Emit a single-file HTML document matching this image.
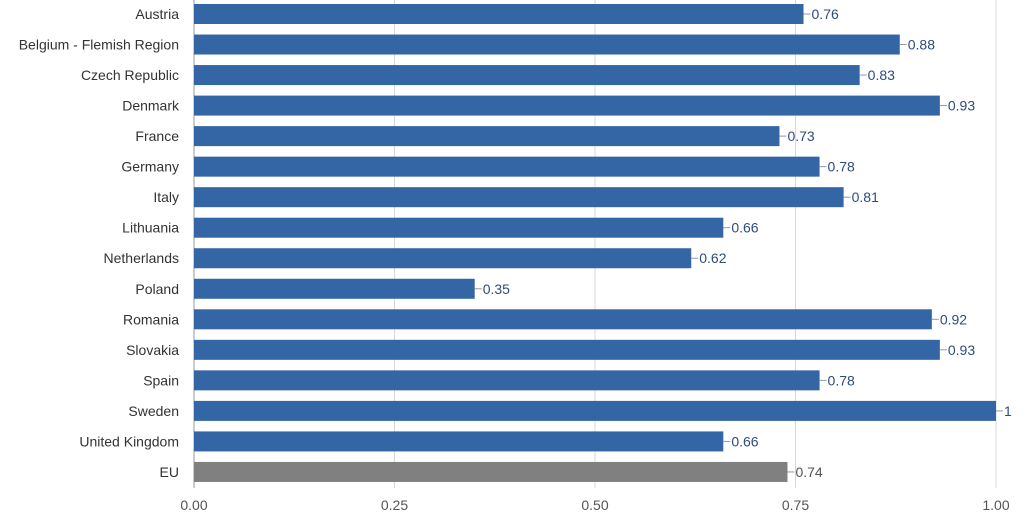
<!DOCTYPE html>
<html><head><meta charset="utf-8"><style>
body{margin:0;background:#fff;}
svg{display:block;font-family:"Liberation Sans",sans-serif;}
</style></head><body>
<svg id="chart" width="1024" height="518"></svg>
<script>
const categories=["Austria","Belgium - Flemish Region","Czech Republic","Denmark","France","Germany","Italy","Lithuania","Netherlands","Poland","Romania","Slovakia","Spain","Sweden","United Kingdom","EU"];
const values=[0.76,0.88,0.83,0.93,0.73,0.78,0.81,0.66,0.62,0.35,0.92,0.93,0.78,1,0.66,0.74];
const valueLabels=["0.76","0.88","0.83","0.93","0.73","0.78","0.81","0.66","0.62","0.35","0.92","0.93","0.78","1","0.66","0.74"];
const ticks=[0,0.25,0.5,0.75,1];
const tickLabels=["0.00","0.25","0.50","0.75","1.00"];
const NS="http://www.w3.org/2000/svg";
const svg=document.getElementById('chart');
const x0=194,x1=996,yTop=14,step=30.53;
const xs=v=>x0+(x1-x0)*v;
const ys=i=>yTop+i*step;
function mk(t,a){const e=document.createElementNS(NS,t);for(const k in a)e.setAttribute(k,a[k]);svg.appendChild(e);return e;}
ticks.forEach((t,i)=>{
  const g=mk('line',{x1:xs(t),x2:xs(t),y1:0,y2:488,stroke:i==0?'#999':'#d8d8d8','stroke-width':1});
  
  
  const tx=mk('text',{x:xs(t),y:510,'text-anchor':'middle','font-size':14,fill:'#555'});
  tx.textContent=tickLabels[i];
  
  
});
categories.forEach((c,i)=>{
  const y=ys(i);const isEU=c==="EU";
  const lab=mk('text',{x:179,y:y+5,'text-anchor':'end','font-size':14,fill:'#333'});
  lab.textContent=c;
  
  
  const r=mk('rect',{x:x0,y:y-10,width:xs(values[i])-x0,height:20,fill:isEU?'#808080':'#3465a4'});
  
  
  const xe=xs(values[i]);
  const ln=mk('line',{x1:xe,x2:xe+7,y1:y,y2:y,stroke:'#999','stroke-width':1});
  
  
  const v=mk('text',{x:xe+8,y:y+5,'font-size':14,fill:isEU?'#555':'#2f4b7c'});
  v.textContent=valueLabels[i];
  
  
});
</script>
</body></html>
